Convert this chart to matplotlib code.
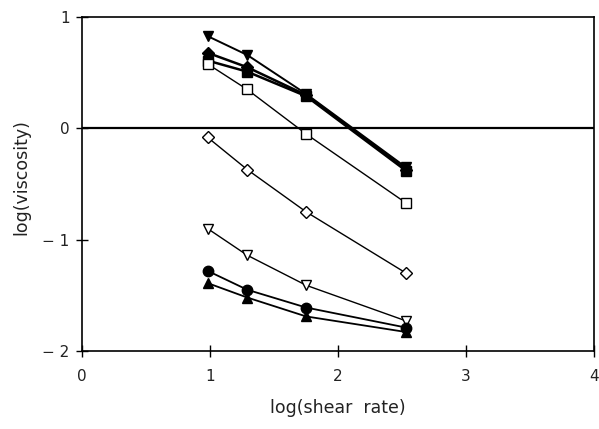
import matplotlib

matplotlib.use("Agg")
import matplotlib.pyplot as plt

plt.rcParams["font.family"] = ["DejaVu Sans"]

shear = [0.98, 1.29, 1.75, 2.53]

tri_down_filled = [0.83, 0.66, 0.31, -0.35]
diamond_filled = [0.68, 0.55, 0.30, -0.37]
square_filled = [0.61, 0.51, 0.29, -0.38]
square_open = [0.58, 0.35, -0.05, -0.67]
diamond_open = [-0.08, -0.37, -0.75, -1.30]
tri_down_open = [-0.90, -1.14, -1.41, -1.73]
circle_filled = [-1.28, -1.45, -1.61, -1.79]
tri_up_filled = [-1.39, -1.52, -1.69, -1.83]

series = [
    (tri_down_filled, "v", "black", 1.4),
    (diamond_filled, "D", "black", 1.8),
    (square_filled, "s", "black", 1.8),
    (square_open, "s", "white", 1.0),
    (diamond_open, "D", "white", 1.0),
    (tri_down_open, "v", "white", 1.0),
    (circle_filled, "o", "black", 1.3),
    (tri_up_filled, "^", "black", 1.3),
]

fig = plt.figure(figsize=(5.99, 4.29), dpi=100)
ax = fig.add_axes([0.137, 0.182, 0.855, 0.778])

ax.axhline(0, color="black", lw=1.6, zorder=1)

for vals, mk, face, lw in series:
    ms = 6 if mk == "D" else 7.5
    ax.plot(shear, vals, color="black", lw=lw, marker=mk, ms=ms,
            mfc=face, mec="black", mew=1.0, zorder=3)

ax.set_xlim(0, 4)
ax.set_ylim(-2, 1)
ax.set_xticks([0, 1, 2, 3, 4])
ax.set_yticks([-2, -1, 0, 1])
ax.set_yticklabels(["\u2212 2", "\u2212 1", "0", "1"])
ax.tick_params(direction="inout", length=8, width=1, labelsize=11,
               labelcolor="#222222")
ax.tick_params(axis="x", pad=9)
ax.tick_params(axis="y", pad=5)
for s in ax.spines.values():
    s.set_linewidth(1.2)

ax.set_xlabel("log(shear  rate)", fontsize=12.5, labelpad=11, color="#222222")
ax.set_ylabel("log(viscosity)", fontsize=12.5, color="#222222")
ax.yaxis.set_label_coords(-0.10, 0.52)

fig.savefig("out.png", dpi=100)
plt.close(fig)
